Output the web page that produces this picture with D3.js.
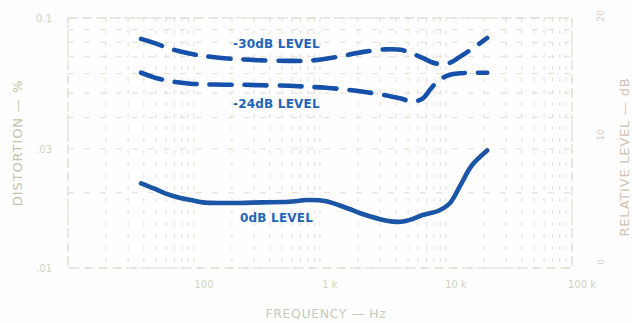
<!DOCTYPE html>
<html><head><meta charset="utf-8">
<script src="https://cdn.jsdelivr.net/npm/d3@7"></script>
<style>
html,body{margin:0;padding:0;background:#fefefe;}
svg{display:block;}
path.dashed{stroke-dasharray:22 13;}
</style></head>
<body>
<svg id="c" width="632" height="323"></svg>
<script>
// ---- data ----
const freqs = [38, 48, 59, 74, 94, 117, 174, 231, 344, 569, 791, 1120, 1670, 2210, 3300, 4380, 5440, 6510, 7580, 8640, 10760, 12870, 16020, 21230];
const level30 = [0.0825, 0.0795, 0.0766, 0.0739, 0.0719, 0.0706, 0.0690, 0.0684, 0.0677, 0.0674, 0.0674, 0.0687, 0.0712, 0.0732, 0.0749, 0.0746, 0.0719, 0.0693, 0.0668, 0.0656, 0.0662, 0.0699, 0.0752, 0.0832];
const level24 = [0.0604, 0.0579, 0.0564, 0.0553, 0.0546, 0.0543, 0.0541, 0.0541, 0.0538, 0.0536, 0.0531, 0.0526, 0.0516, 0.0507, 0.0491, 0.0476, 0.0463, 0.0476, 0.0521, 0.0561, 0.0593, 0.0601, 0.0604, 0.0604];
const level0  = [0.0218, 0.0208, 0.0199, 0.0192, 0.0187, 0.0183, 0.0182, 0.0182, 0.0183, 0.0184, 0.0187, 0.0185, 0.0173, 0.0164, 0.0155, 0.0153, 0.0157, 0.0163, 0.0166, 0.0169, 0.0182, 0.0212, 0.0257, 0.0295];
const seriesNames = ["-30dB LEVEL", "-24dB LEVEL", "0dB LEVEL"];
const xTickValues = [100, 1000, 10000, 100000];
const xTickLabels = ["100", "1 k", "10 k", "100 k"];
const yTickValues = [0.1, 0.03, 0.01];
const yTickLabels = ["0.1", ".03", ".01"];
const rTickLabels = ["20", "10", "0"];

const svg = d3.select("#c");
const L = 68, R = 572, T = 18, B = 268;
const x = d3.scaleLog().domain([10, 100000]).range([L, R]);
const y = d3.scaleLog().domain([0.01, 0.1]).range([B, T]);

// faint grid
const g = svg.append("g");
const gridCols = ["#e2dacb", "#dbdfcf", "#ded7cf"];
x.ticks().forEach((t, i) => {
  g.append("line").attr("x1", x(t)).attr("x2", x(t)).attr("y1", T).attr("y2", B)
    .attr("stroke", gridCols[i % 3]).attr("stroke-width", 1)
    .attr("stroke-dasharray", "4,8").attr("opacity", 0.85);
});
y.ticks().forEach((t, i) => {
  g.append("line").attr("x1", L).attr("x2", R).attr("y1", y(t)).attr("y2", y(t))
    .attr("stroke", gridCols[(i + 1) % 3]).attr("stroke-width", 1)
    .attr("stroke-dasharray", "6,10").attr("opacity", 0.85);
});
// frame
g.append("rect").attr("x", L).attr("y", T).attr("width", R - L).attr("height", B - T)
  .attr("fill", "none").attr("stroke", "#ddd5c6").attr("stroke-width", 1).attr("stroke-dasharray", "10,4");

// axis tick labels
const axisCol = "#d0d2c2";
svg.append("g").selectAll("text").data(xTickValues).join("text")
  .attr("x", (d) => x(d) + 10).attr("y", 288)
  .attr("text-anchor", "middle").attr("font-family", "DejaVu Sans").attr("font-size", 10)
  .attr("fill", axisCol).text((d, i) => xTickLabels[i]);
svg.append("g").selectAll("text").data(yTickValues).join("text")
  .attr("x", 52).attr("y", (d) => y(d) + 4)
  .attr("text-anchor", "end").attr("font-family", "DejaVu Sans").attr("font-size", 10)
  .attr("fill", axisCol).text((d, i) => yTickLabels[i]);
svg.append("g").selectAll("text").data(rTickLabels).join("text")
  .attr("transform", (d, i) => `translate(604,${[16, 135, 262][i]}) rotate(-90)`)
  .attr("text-anchor", "middle").attr("font-family", "DejaVu Sans").attr("font-size", 9)
  .attr("fill", "#d8ccc0").text((d) => d);

// axis titles
svg.append("text").attr("transform", "translate(22,143) rotate(-90)")
  .attr("text-anchor", "middle").attr("font-family", "DejaVu Sans").attr("font-size", 13)
  .attr("letter-spacing", 0.9).attr("fill", "#bfc3ae").text("DISTORTION — %");
svg.append("text").attr("x", 326).attr("y", 318)
  .attr("text-anchor", "middle").attr("font-family", "DejaVu Sans").attr("font-size", 12.5)
  .attr("letter-spacing", 0.6).attr("fill", "#c9cbb9").text("FREQUENCY — Hz");
svg.append("text").attr("transform", "translate(629,157) rotate(-90)")
  .attr("text-anchor", "middle").attr("font-family", "DejaVu Sans").attr("font-size", 13)
  .attr("letter-spacing", 0.8).attr("fill", "#d2c2b3").text("RELATIVE LEVEL — dB");

// curves
const line = d3.line().x((d) => x(d[0])).y((d) => y(d[1])).curve(d3.curveCatmullRom.alpha(0.5));
const series = [
  { v: level30, dash: true, col: "#1750a8" },
  { v: level24, dash: true, col: "#1550aa" },
  { v: level0, dash: false, col: "#1a55a6" }
];
series.forEach((s) => {
  svg.append("path").datum(freqs.map((f, i) => [f, s.v[i]]))
    .attr("class", s.dash ? "dashed" : "solid")
    .attr("d", line).attr("fill", "none").attr("stroke", s.col)
    .attr("stroke-width", 4.6).attr("stroke-linecap", "round")
    .attr("stroke-dasharray", s.dash ? "22 13" : null);
});

// series labels
const labPos = [[233, 48], [233, 108], [240, 222]];
svg.append("g").selectAll("text").data(seriesNames).join("text")
  .attr("x", (d, i) => labPos[i][0]).attr("y", (d, i) => labPos[i][1])
  .attr("font-family", "DejaVu Sans").attr("font-size", 12).attr("font-weight", 600)
  .attr("letter-spacing", 0.2).attr("fill", "#2264b8").text((d) => d);
</script>
</body></html>
